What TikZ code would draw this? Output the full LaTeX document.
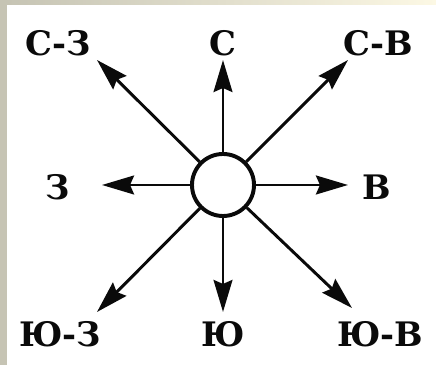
\documentclass[tikz,border=0pt]{standalone}
\usepackage{fontspec}
\setmainfont{DejaVu Serif}
\usetikzlibrary{arrows.meta,positioning}
\definecolor{ink}{RGB}{10,10,10}
\definecolor{frame}{RGB}{198,196,180}
\definecolor{cream}{RGB}{252,248,228}
\tikzset{
  hub/.style   = {circle, draw=ink, fill=white, line width=2.8pt,
                  minimum size=1.55cm, inner sep=0pt},
  ray/.style   = {-{Stealth[length=8mm, width=4.7mm, inset=1mm]},
                  draw=ink, line width=2.1pt},
  wind/.style  = {text=ink, font=\fontsize{24}{26}\selectfont\bfseries,
                  inner sep=0pt, anchor=center},
}

\begin{document}
\begin{tikzpicture}[x=0.025cm, y=0.025cm]
% page and frame
\useasboundingbox (0,0) rectangle (436,365);
\fill[white] (0,0) rectangle (436,365);
\fill[frame] (0,0) rectangle (7,365);
\shade[left color=frame, right color=cream] (7,360) rectangle (436,365);

% center
\node[hub] (hub) at (223,180) {};

% arrow tips
\coordinate (tn)  at (223,305);
\coordinate (ts)  at (223,53);
\coordinate (tw)  at (102,180);
\coordinate (te)  at (348,180);
\coordinate (tnw) at (97,305);
\coordinate (tne) at (348,305);
\coordinate (tsw) at (97,53);
\coordinate (tse) at (352,57);

\draw[ray] (hub) -- (tn);
\draw[ray] (hub) -- (ts);
\draw[ray] (hub) -- (tw);
\draw[ray] (hub) -- (te);
\draw[ray] (hub) -- (tnw);
\draw[ray] (hub) -- (tne);
\draw[ray] (hub) -- (tsw);
\draw[ray] (hub) -- (tse);

% labels
\node[wind] (ln)  at (223,322) {С};
\node[wind] (lne) at (378,322) {С-В};
\node[wind] (lnw) at (58,322)  {С-З};
\node[wind] (lw)  at (58,178)  {З};
\node[wind] (le)  at (377,178) {В};
\node[wind] (ls)  at (223,31)  {Ю};
\node[wind] (lsw) at (60,31)   {Ю-З};
\node[wind] (lse) at (380,31)  {Ю-В};
\end{tikzpicture}
\end{document}
